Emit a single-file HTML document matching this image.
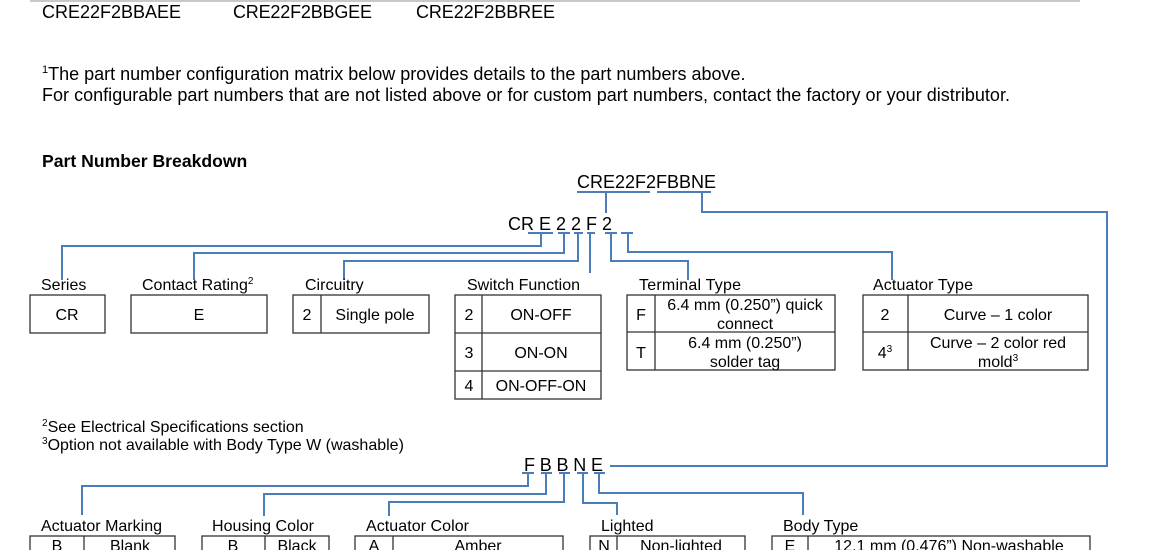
<!DOCTYPE html>
<html><head><meta charset="utf-8"><style>
html,body{margin:0;padding:0;background:#fff;width:1150px;height:550px;overflow:hidden}
svg{display:block}
text{font-family:"Liberation Sans",Arial,sans-serif;fill:#000}
</style></head><body>
<svg width="1150" height="550" viewBox="0 0 1150 550" xmlns="http://www.w3.org/2000/svg">
<line x1="30" y1="1" x2="1080" y2="1" stroke="#c8c8c8" stroke-width="2"/>
<g font-size="18">
<text x="42" y="18" textLength="139">CRE22F2BBAEE</text>
<text x="233" y="18" textLength="139">CRE22F2BBGEE</text>
<text x="416" y="18" textLength="139">CRE22F2BBREE</text>
<text x="42" y="80"><tspan font-size="11" dy="-7">1</tspan><tspan dy="7">The part number configuration matrix below provides details to the part numbers above.</tspan></text>
<text x="42" y="101" textLength="968">For configurable part numbers that are not listed above or for custom part numbers, contact the factory or your distributor.</text>
<text x="42" y="167" font-weight="bold" font-size="17.6">Part Number Breakdown</text>
<text x="577" y="188" textLength="139">CRE22F2FBBNE</text>
<text x="508" y="230" textLength="104">CR E 2 2 F 2</text>
<text x="524" y="471" textLength="79">F B B N E</text>
</g>
<g fill="none" stroke="#4a7ebb" stroke-width="2">
<path d="M577 192H650M657 192H711"/>
<path d="M606 192V213"/>
<path d="M702 192V212H1107V466H610"/>
<path d="M528 233H553M558 233H570M574 233H583M587 233H595M605 233H617M621 233H633"/>
<path d="M541 233V246H62V280"/>
<path d="M564 233V253H194V280"/>
<path d="M578 233V261H344V280"/>
<path d="M590 233V273"/>
<path d="M611 233V261H688V280"/>
<path d="M628 233V252H892V280"/>
<path d="M522 473H534M541 473H552M559 473H570M577 473H588M594 473H605"/>
<path d="M528 473V486H82V515"/>
<path d="M546 473V494H264V516"/>
<path d="M564 473V502H389V516"/>
<path d="M583 473V503H617V515"/>
<path d="M599 473V493H803V515"/>
</g>
<g font-size="16">
<text x="41" y="290">Series</text>
<text x="142" y="290">Contact Rating<tspan font-size="10" dy="-6">2</tspan></text>
<text x="305" y="290">Circuitry</text>
<text x="467" y="290" textLength="113">Switch Function</text>
<text x="639" y="290" textLength="102">Terminal Type</text>
<text x="873" y="290" textLength="100">Actuator Type</text>
<text x="41" y="531" textLength="121">Actuator Marking</text>
<text x="212" y="531" textLength="102">Housing Color</text>
<text x="366" y="531" textLength="103">Actuator Color</text>
<text x="601" y="531">Lighted</text>
<text x="783" y="531">Body Type</text>
<text x="42" y="432"><tspan font-size="10" dy="-6">2</tspan><tspan dy="6">See Electrical Specifications section</tspan></text>
<text x="42" y="450"><tspan font-size="10" dy="-6">3</tspan><tspan dy="6">Option not available with Body Type W (washable)</tspan></text>
</g>
<g fill="none" stroke="#333" stroke-width="1.3">
<rect x="30" y="295" width="75" height="38"/>
<rect x="131" y="295" width="136" height="38"/>
<rect x="293" y="295" width="136" height="38"/><path d="M321 295V333"/>
<rect x="455" y="295" width="146" height="104"/><path d="M482 295V399M455 333H601M455 371H601"/>
<rect x="627" y="295" width="208" height="75"/><path d="M655 295V370M627 332H835"/>
<rect x="863" y="295" width="225" height="75"/><path d="M908 295V370M863 332H1088"/>
<rect x="30" y="536" width="145" height="30"/><path d="M84 536V566"/>
<rect x="202" y="536" width="127" height="30"/><path d="M265 536V566"/>
<rect x="355" y="536" width="208" height="30"/><path d="M393 536V566"/>
<rect x="590" y="536" width="155" height="30"/><path d="M617 536V566"/>
<rect x="772" y="536" width="318" height="30"/><path d="M808 536V566"/>
</g>
<g font-size="16" text-anchor="middle">
<text x="67" y="320">CR</text>
<text x="199" y="320">E</text>
<text x="307" y="320">2</text><text x="375" y="320">Single pole</text>
<text x="469" y="320">2</text><text x="541" y="320">ON-OFF</text>
<text x="469" y="358">3</text><text x="541" y="358">ON-ON</text>
<text x="469" y="391">4</text><text x="541" y="391">ON-OFF-ON</text>
<text x="641" y="320">F</text><text x="745" y="310">6.4 mm (0.250”) quick</text><text x="745" y="329">connect</text>
<text x="641" y="358">T</text><text x="745" y="348">6.4 mm (0.250”)</text><text x="745" y="367">solder tag</text>
<text x="885" y="320">2</text><text x="998" y="320">Curve – 1 color</text>
<text x="885" y="358">4<tspan font-size="10" dy="-6">3</tspan></text><text x="998" y="348">Curve – 2 color red</text><text x="998" y="367">mold<tspan font-size="10" dy="-6">3</tspan></text>
<text x="57" y="551">B</text><text x="130" y="551">Blank</text>
<text x="233" y="551">B</text><text x="297" y="551">Black</text>
<text x="374" y="551">A</text><text x="478" y="551">Amber</text>
<text x="604" y="551">N</text><text x="681" y="551">Non-lighted</text>
<text x="790" y="551">E</text><text x="949" y="551">12.1 mm (0.476”) Non-washable</text>
</g>
</svg>
</body></html>
